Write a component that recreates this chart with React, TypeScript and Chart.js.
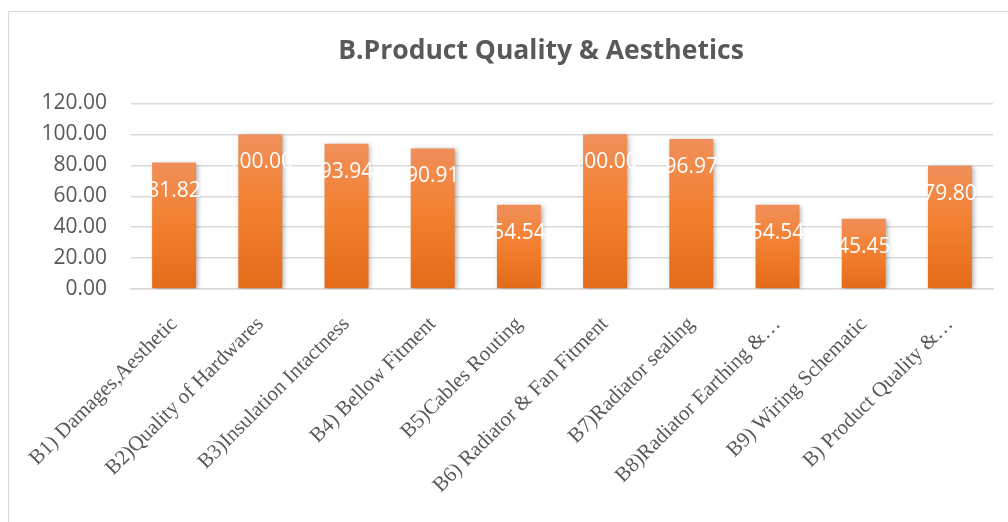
import React, { useEffect, useRef } from "react";
import { Chart, registerables } from "chart.js";

Chart.register(...registerables);

const categories = [
  "B1) Damages,Aesthetic",
  "B2)Quality of Hardwares",
  "B3)Insulation Intactness",
  "B4) Bellow Fitment",
  "B5)Cables Routing",
  "B6) Radiator & Fan Fitment",
  "B7)Radiator sealing",
  "B8)Radiator Earthing &…",
  "B9) Wiring Schematic",
  "B) Product Quality &…",
];

const scores = [81.82, 100.0, 93.94, 90.91, 54.54, 100.0, 96.97, 54.54, 45.45, 79.8];

const yTicks = [0, 20, 40, 60, 80, 100, 120];

const titleText = "B.Product Quality & Aesthetics";

const titlePlugin = {
  id: "customTitle",
  afterDraw(chart: any) {
    const ctx = chart.ctx;
    ctx.save();
    ctx.fillStyle = "#595959";
    ctx.font = "bold 26.5px 'Open Sans'";
    ctx.textAlign = "center";
    ctx.textBaseline = "alphabetic";
    ctx.fillText(titleText, 541, 59);
    ctx.restore();
  },
};

const shadowAndLabels = {
  id: "shadowAndLabels",
  beforeDatasetsDraw(chart: any) {
    const ctx = chart.ctx;
    ctx.save();
    ctx.shadowColor = "rgba(0,0,0,0.35)";
    ctx.shadowBlur = 5;
    ctx.shadowOffsetX = 2;
    ctx.shadowOffsetY = 1;
  },
  afterDatasetsDraw(chart: any) {
    const ctx = chart.ctx;
    ctx.restore();
    const meta = chart.getDatasetMeta(0);
    ctx.save();
    ctx.fillStyle = "#ffffff";
    ctx.font = "21px 'Open Sans'";
    ctx.textAlign = "center";
    ctx.textBaseline = "middle";
    meta.data.forEach((el: any, i: number) => {
      const v = chart.data.datasets[0].data[i] as number;
      ctx.fillText(v.toFixed(2), el.x, el.y + 28);
    });
    ctx.restore();
  },
};

export default function App() {
  const ref = useRef<HTMLCanvasElement | null>(null);

  useEffect(() => {
    if (!ref.current) return;
    const chart = new Chart(ref.current, {
      type: "bar",
      data: {
        labels: categories,
        datasets: [
          {
            data: scores,
            categoryPercentage: 1,
            barPercentage: 0.51,
            backgroundColor: (c: any) => {
              const ch = c.chart;
              const area = ch.chartArea;
              if (!area) return "#f07f2f";
              const ys = ch.scales.y;
              const v = c.raw as number;
              const top = ys.getPixelForValue(v ?? 0);
              const bottom = ys.getPixelForValue(0);
              const g = ch.ctx.createLinearGradient(0, top, 0, bottom);
              g.addColorStop(0, "#f08f5a");
              g.addColorStop(0.45, "#f38131");
              g.addColorStop(1, "#e36b19");
              return g;
            },
          },
        ],
      },
      options: {
        animation: false,
        responsive: false,
        maintainAspectRatio: false,
        layout: { padding: { left: 0, right: 15, top: 103.5, bottom: 0 } },
        plugins: {
          legend: { display: false },
          tooltip: { enabled: false },
          title: { display: false },
        },
        scales: {
          x: {
            grid: { display: false, drawTicks: false },
            border: { display: true, color: "#d9d9d9", width: 1.5 },
            ticks: {
              color: "#595959",
              font: { family: "'Liberation Serif'", size: 21 },
              minRotation: 45,
              maxRotation: 45,
              autoSkip: false,
              padding: 23,
            },
            afterFit: (scale: any) => {
              scale.height = 233;
            },
          },
          y: {
            min: 0,
            max: 120,
            afterBuildTicks: (axis: any) => {
              axis.ticks = yTicks.map((v) => ({ value: v }));
            },
            grid: { color: "#d9d9d9", lineWidth: 1.5, drawTicks: false },
            border: { display: false },
            ticks: {
              color: "#595959",
              font: { family: "'Open Sans'", size: 21 },
              padding: 24,
              callback: (v: any) => Number(v).toFixed(2),
            },
            afterFit: (scale: any) => {
              scale.width = 131;
            },
          },
        },
      },
      plugins: [shadowAndLabels, titlePlugin],
    });
    return () => chart.destroy();
  }, []);

  return (
    <div style={{ position: "fixed", left: 0, top: 0, width: 1008, height: 522, overflow: "hidden", background: "#fff" }}>
      <div
        style={{
          position: "absolute",
          left: 8,
          top: 11,
          width: 1100,
          height: 600,
          border: "1.5px solid #d9d9d9",
        }}
      />
      <canvas ref={ref} width={1008} height={522} style={{ position: "absolute", left: 0, top: 0 }} />
    </div>
  );
}
